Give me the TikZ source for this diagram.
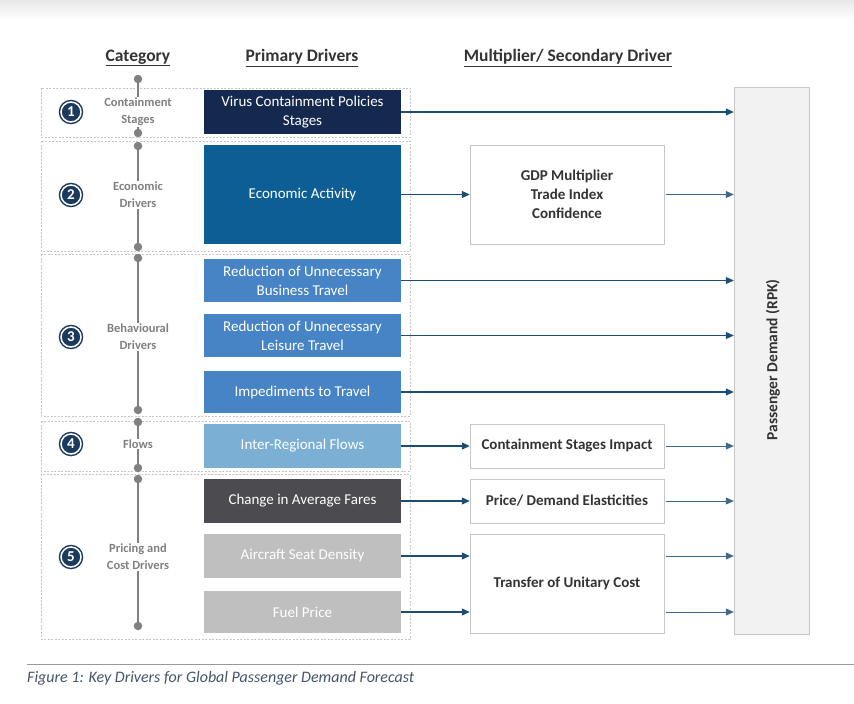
\documentclass[tikz,border=0pt]{standalone}
\usepackage{fontspec}
\setmainfont{Carlito}
\usepackage{xcolor}
\usepackage{tikz}
\usetikzlibrary{arrows.meta,positioning}
\definecolor{navyx}{HTML}{15294F}
\definecolor{econx}{HTML}{0E5E96}
\definecolor{behavx}{HTML}{4784C5}
\definecolor{flowx}{HTML}{7BB0D4}
\definecolor{faresx}{HTML}{4C4C50}
\definecolor{costx}{HTML}{BFBFBF}
\definecolor{arrowx}{HTML}{1C4E74}
\definecolor{numx}{HTML}{1B3A5E}
\definecolor{darkx}{HTML}{333333}
\definecolor{capx}{HTML}{44546A}
\tikzset{
  pbox/.style={minimum width=197pt,inner sep=2pt,align=center,text=white,font=\fontsize{15}{19}\selectfont},
  sbox/.style={draw=gray!45,fill=white,minimum width=194pt,inner sep=2pt,align=center,text=darkx,font=\bfseries\fontsize{15}{19}\selectfont},
  catbox/.style={draw=gray!45,dash pattern=on 2pt off 1.5pt,thin},
  hd/.style={text=darkx,font=\bfseries\fontsize{17.5}{20}\selectfont},
  cat/.style={fill=white,inner sep=1pt,align=center,text=gray,font=\bfseries\fontsize{12.5}{17}\selectfont},
  dot/.style={circle,fill=gray,inner sep=0pt,minimum size=8.5pt},
  tl/.style={gray,line width=1.3pt},
  num/.style={circle,fill=numx,draw=numx,double=white,double distance=1.5pt,line width=1.5pt,inner sep=0pt,minimum size=20pt,text=white,font=\bfseries\fontsize{15}{15}\selectfont},
  ar/.style={-{Triangle[length=8pt,width=7pt]},line width=1.1pt,arrowx},
  ar2/.style={-{Triangle[length=8pt,width=7pt]},line width=0.8pt,arrowx!85}
}
\begin{document}
\begin{tikzpicture}[x=1pt,y=-1pt]
\useasboundingbox (0,0) rectangle (854,704);
\shade[top color=black!9,bottom color=white] (0,0) rectangle (854,20);
% headers
\node[hd] (hcat) at (138,58) {\underline{Category}};
\node[hd] (hprim) at (302,58) {\underline{Primary Drivers}};
\node[hd] (hsec) at (568,58) {\underline{Multiplier/ Secondary Driver}};
% category bands
\draw[catbox] (41,88) rectangle (410,137);
\draw[catbox] (41,141) rectangle (410,251);
\draw[catbox] (41,254) rectangle (410,416);
\draw[catbox] (41,421) rectangle (410,471);
\draw[catbox] (41,474) rectangle (410,639);
% timeline
\foreach \n/\t/\b/\c/\txt in {1/79/133/112/{Containment\\Stages},2/146/247/195/{Economic\\Drivers},3/258/410/337/{Behavioural\\Drivers},4/422/468/444/{Flows},5/479/626/557/{Pricing and\\Cost Drivers}}{
  \node[dot] (top\n) at (138,\t) {};
  \node[dot] (bot\n) at (138,\b) {};
  \draw[tl] (top\n) -- (bot\n);
  \node[cat] (cat\n) at (138,\c) {\txt};
  \node[num] (num\n) at (71,\c) {\n};
}
% primary drivers
\node[pbox,fill=navyx,minimum height=44pt] (virus) at (302.5,112) {Virus Containment Policies\\Stages};
\node[pbox,fill=econx,minimum height=99pt] (econ) at (302.5,194.5) {Economic Activity};
\node[pbox,fill=behavx,minimum height=43pt] (bus) at (302.5,280.5) {Reduction of Unnecessary\\Business Travel};
\node[pbox,fill=behavx,minimum height=43pt] (leis) at (302.5,335.5) {Reduction of Unnecessary\\Leisure Travel};
\node[pbox,fill=behavx,minimum height=42pt] (imped) at (302.5,392) {Impediments to Travel};
\node[pbox,fill=flowx,minimum height=44pt] (flows) at (302.5,446) {Inter-Regional Flows};
\node[pbox,fill=faresx,minimum height=44pt] (fares) at (302.5,501) {Change in Average Fares};
\node[pbox,fill=costx,minimum height=44pt] (seat) at (302.5,556) {Aircraft Seat Density};
\node[pbox,fill=costx,minimum height=42pt] (fuel) at (302.5,612) {Fuel Price};
% secondary drivers
\node[sbox,minimum height=99pt] (gdp) at (567,194.5) {GDP Multiplier\\Trade Index\\Confidence};
\node[sbox,minimum height=44pt] (csi) at (567,446) {Containment Stages Impact};
\node[sbox,minimum height=44pt] (elast) at (567,501) {Price/ Demand Elasticities};
\node[sbox,minimum height=99pt] (unit) at (567,583.5) {Transfer of Unitary Cost};
% demand
\node[draw=gray!45,fill=black!5,minimum width=75pt,minimum height=547pt] (rpk) at (771.5,361) {};
\node[rotate=90,text=darkx,font=\bfseries\fontsize{15.5}{18}\selectfont] (rpklab) at (773,360) {Passenger Demand (RPK)};
% arrows
\draw[ar] (virus) -- (virus -| rpk.west);
\draw[ar] (econ) -- (gdp);
\draw[ar2] ([xshift=2pt]gdp.east) -- (gdp -| rpk.west);
\draw[ar] (bus) -- (bus -| rpk.west);
\draw[ar] (leis) -- (leis -| rpk.west);
\draw[ar] (imped) -- (imped -| rpk.west);
\draw[ar] (flows) -- (csi);
\draw[ar2] ([xshift=2pt]csi.east) -- (csi -| rpk.west);
\draw[ar] (fares) -- (elast);
\draw[ar2] ([xshift=2pt]elast.east) -- (elast -| rpk.west);
\draw[ar] (seat) -- (seat -| unit.west);
\draw[ar] (fuel) -- (fuel -| unit.west);
\draw[ar2] ([xshift=2pt]unit.east |- seat) -- (seat -| rpk.west);
\draw[ar2] ([xshift=2pt]unit.east |- fuel) -- (fuel -| rpk.west);
% caption
\coordinate (rulel) at (27,664);
\coordinate (ruler) at (854,664);
\draw[gray!80,line width=0.8pt] (rulel) -- (ruler);
\node[anchor=west,inner sep=0pt,text=capx,font=\itshape\fontsize{16}{19}\selectfont] (cap) at (27,678) {Figure 1: Key Drivers for Global Passenger Demand Forecast};
\end{tikzpicture}
\end{document}
